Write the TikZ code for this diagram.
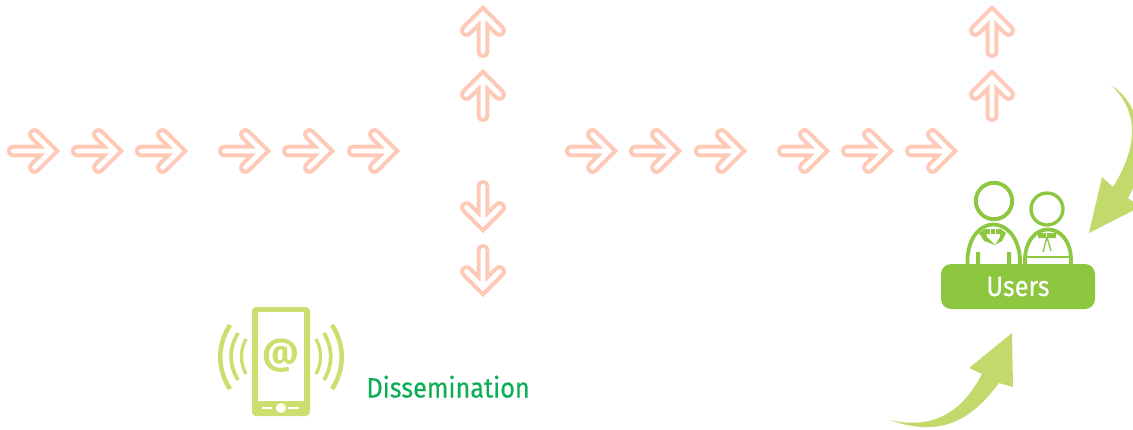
\documentclass[tikz,border=0pt]{standalone}
\usepackage{fontspec}
\setmainfont{Fira Sans}
\newfontfamily\labelfont[FakeStretch=0.9,FakeBold=0.35]{Fira Sans}
\definecolor{pinkarrow}{HTML}{FFC9B8}
\definecolor{leafarrow}{HTML}{C1DA6B}
\definecolor{phonegreen}{HTML}{CBDF6E}
\definecolor{usergreen}{HTML}{8DC63F}
\definecolor{textgreen}{HTML}{0BAE55}
\tikzset{
  flowarrow/.pic={
    \path[draw=pinkarrow, line width=9.6pt, line cap=round, line join=miter, miter limit=4]
      (-46.6,0) -- (-9,0) (-25.5,-16.5) -- (-9,0) -- (-25.5,16.5);
    \path[draw=white, line width=3.6pt, line cap=round, line join=miter, miter limit=4]
      (-46.6,0) -- (-9,0) (-25.5,-16.5) -- (-9,0) -- (-25.5,16.5);
  },
  wave/.style={draw=phonegreen, line cap=butt},
  bodyline/.style={draw=usergreen, line width=2.8pt, fill=white},
  detail/.style={fill=usergreen, draw=none}
}
\begin{document}
\begin{tikzpicture}[x=0.75pt,y=-0.75pt,line width=0.75pt]
\useasboundingbox (0,0) rectangle (1133,429);
\clip (0,0) rectangle (1133,429);
% right-pointing arrows
\foreach \tipx in {60,124,188,271,335,400,618,682,747,830,894,958}
  \pic at (\tipx,151) {flowarrow};
% vertical arrows
\foreach \ax/\tipy in {483/5,483/69,992/5,992/69}
  \pic[rotate=90] at (\ax,\tipy) {flowarrow};
\foreach \tipy in {233,297}
  \pic[rotate=-90] at (483,\tipy) {flowarrow};
% curved arrows
\fill[leafarrow] (890,420) .. controls (925,428) and (958,420) .. (982,374)
  -- (969,368) -- (1012,333) -- (1013,387) -- (999,383)
  .. controls (975,415) and (945,440) .. (890,420) -- cycle;
\fill[leafarrow] (1111,85) .. controls (1135,108) and (1142,140) .. (1113,187)
  -- (1102,177) -- (1089,233) -- (1140,207) -- (1128,198)
  .. controls (1145,170) and (1150,110) .. (1111,85) -- cycle;
% users
\draw[usergreen, line width=2.9pt, fill=white] (994,201) circle (18.2);
\draw[usergreen, line width=2.5pt, fill=white] (1047,209) circle (16);
\draw[bodyline] (967.5,266) -- (967.5,258) .. controls (969,236) and (981,224.5) .. (993.5,224.5)
  .. controls (1006,224.5) and (1018,236) .. (1020,258) -- (1020,266);
\draw[bodyline] (1025,266) -- (1025,258) .. controls (1026,240) and (1036,229.5) .. (1048,229.5)
  .. controls (1060,229.5) and (1070,240) .. (1071,258) -- (1071,266);
\fill[detail] (976,252) rectangle (980,264) (1007,252) rectangle (1011,264);
\fill[detail] (985,229) rectangle (990,234) (991,229) rectangle (995,234) (996,229) rectangle (1001,234);
\fill[detail] (985,229) -- (979,233) -- (984,241) -- (995,245) -- (987,237) -- cycle;
\fill[detail] (1001,229) -- (1006,233) -- (1002,241) -- (995,245) -- (1000,237) -- cycle;
\fill[detail] (1038,233) rectangle (1046,238) (1047,233) rectangle (1056,238);
\draw[usergreen, line width=1pt] (1047,237) -- (1043,252) (1047,237) -- (1051,251);
\draw[usergreen, line width=1.1pt] (1025,257) -- (1071,257);
\node[fill=usergreen, draw=none, rounded corners=7.5pt, minimum width=115.5pt, minimum height=33.75pt, inner sep=0pt, text=white, font=\labelfont\fontsize{21}{22}\selectfont] (users) at (1018,286.5) {Users};
% phone
\fill[phonegreen, rounded corners=3] (252,307) rectangle (310,416);
\fill[white] (258,312) rectangle (304,401);
\fill[white] (281,408) circle (5);
\draw[white, line width=1.6pt] (262,408) -- (272,408) (288,408) -- (299,408);
\node[text=phonegreen, inner sep=0pt, font=\fontsize{27}{28}\selectfont\bfseries] (at) at (281,356) {@};
\draw[wave, line width=3.4pt] (230,325) .. controls (217,345) and (217,369) .. (230,389);
\draw[wave, line width=2.8pt] (238,333) .. controls (228.7,349) and (228.7,364) .. (238,380);
\draw[wave, line width=2.4pt] (246,339) .. controls (240,350) and (240,363) .. (246,374);
\draw[wave, line width=3.4pt] (332,325) .. controls (345,345) and (345,369) .. (332,389);
\draw[wave, line width=2.8pt] (324,333) .. controls (333,349) and (333,364) .. (324,380);
\draw[wave, line width=2.4pt] (316,339) .. controls (322,350) and (322,363) .. (316,374);
\node[text=textgreen, anchor=base west, inner sep=0pt, font=\labelfont\fontsize{21}{22}\selectfont] (dissemination) at (366,397.5) {Dissemination};
\end{tikzpicture}
\end{document}
